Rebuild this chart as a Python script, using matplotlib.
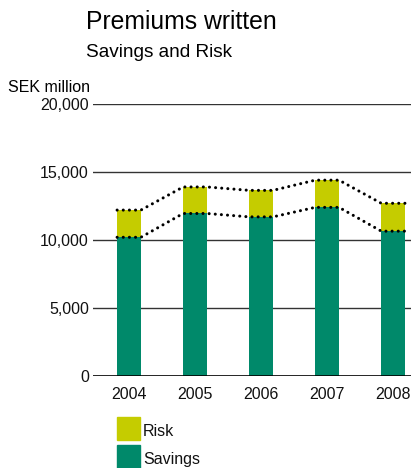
import numpy as np
import matplotlib
matplotlib.use("Agg")
import matplotlib.pyplot as plt
from matplotlib.patches import Rectangle

plt.rcParams["font.family"] = ["Liberation Sans", "DejaVu Sans"]

# Premiums written, SEK million
years = ["2004", "2005", "2006", "2007", "2008"]
savings = [10200, 11950, 11700, 12400, 10650]
risk = [2000, 1950, 1950, 2000, 2050]

savings_color = "#00896a"
risk_color = "#c5cc00"

W, H = 411, 468
fig = plt.figure(figsize=(W / 100, H / 100), dpi=100)
ax = fig.add_axes([93 / W, 1 - 376 / H, (W - 93) / W, (376 - 104) / H])

x = np.arange(len(years))
width = 0.36
savings = np.array(savings)
risk = np.array(risk)
total = savings + risk

ax.bar(x, savings, width, color=savings_color, zorder=2)
ax.bar(x, risk, width, bottom=savings, color=risk_color, zorder=2)

# dotted lines along the tops, joining bar to bar
for tops in (savings, total):
    lx = np.ravel(np.column_stack([x - width / 2, x + width / 2]))
    ly = np.repeat(tops, 2)
    ax.plot(lx, ly, color="black", lw=2.2, linestyle=(0, (0.01, 2.0)),
            dash_capstyle="round", zorder=3, clip_on=False)

ax.set_xlim(-0.545, 4.27)
ax.set_ylim(0, 20000)
yticks = [0, 5000, 10000, 15000, 20000]
ax.set_yticks(yticks)
ax.set_yticklabels([f"{v:,}" for v in yticks])
ax.set_xticks(x)
ax.set_xticklabels(years)
ax.tick_params(length=0, labelsize=11.5, colors="#111111")
ax.tick_params(axis="y", pad=3)
ax.tick_params(axis="x", pad=8)
for s in ax.spines.values():
    s.set_visible(False)
for v in yticks[1:]:
    ax.axhline(v, color="#333333", lw=1.0, zorder=1)
ax.axhline(0, color="black", lw=1.2, zorder=4)

fig.text(86 / W, 1 - 29 / H, "Premiums written", fontsize=17.8, va="baseline", ha="left")
fig.text(86 / W, 1 - 57 / H, "Savings and Risk", fontsize=13.7, va="baseline", ha="left")
fig.text(8 / W, 1 - 92 / H, "SEK million", fontsize=11.5, va="baseline", ha="left")

# legend: squares drawn in figure pixels
legend_items = [("Risk", risk_color), ("Savings", savings_color)]
for i, (lab, col) in enumerate(legend_items):
    top = 417 + i * 28
    fig.add_artist(Rectangle((117 / W, 1 - (top + 23) / H), 23 / W, 23 / H,
                             transform=fig.transFigure, color=col))
    fig.text(143 / W, 1 - (top + 19) / H, lab, fontsize=11.5, va="baseline", ha="left",
             color="#111111")

fig.savefig("out.png", dpi=100)
